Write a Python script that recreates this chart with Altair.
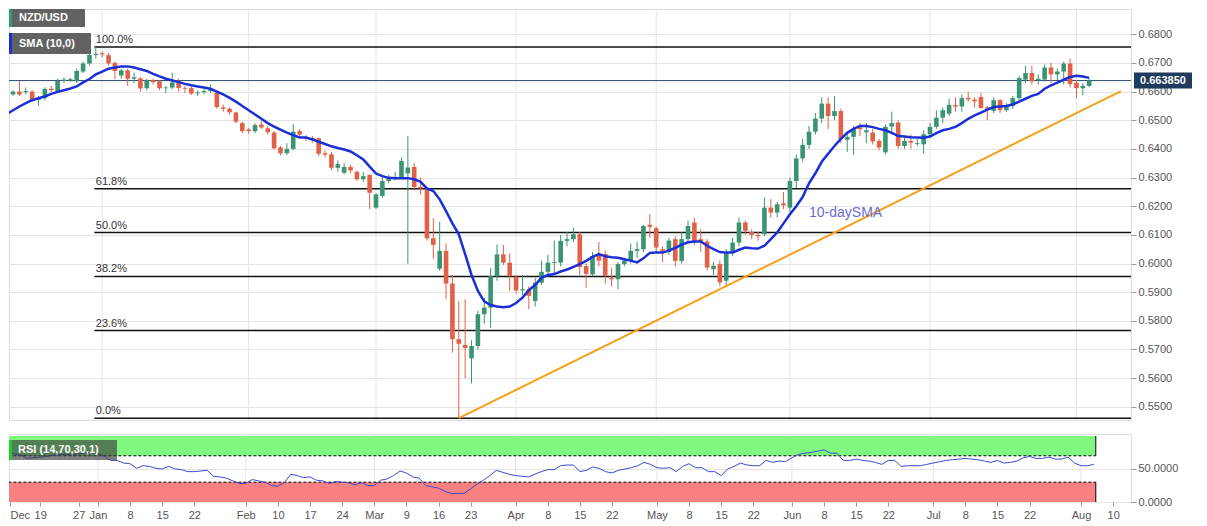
import altair as alt
import pandas as pd

# ---------------- data (trading-day index 0 = 1 Jan 2020) ----------------
day_idx = list(range(-15, 156))

opens = [
    .6550, .6590, .6600, .6598, .6600, .6572, .6578, .6610, .6600, .6637,
    .6640, .6636, .6670, .6698, .6728, .6734, .6727, .6700, .6656, .6674,
    .6645, .6646, .6612, .6640, .6636, .6612, .6614, .6638, .6613, .6612,
    .6594, .6598, .6602, .6596, .6545, .6540, .6527, .6490, .6468, .6462,
    .6485, .6472, .6457, .6405, .6385, .6400, .6462, .6442, .6438, .6437,
    .6385, .6381, .6334, .6317, .6337, .6320, .6294, .6309, .6195, .6236,
    .6288, .6297, .6300, .6315, .6337, .6268, .6259, .6088, .5982, .6044,
    .5930, .5736, .5716, .5669, .5712, .5823, .5846, .5956, .6032, .6003,
    .5954, .5906, .5910, .5869, .5933, .5971, .6002, .6003, .6079, .6085,
    .6102, .5991, .5962, .6030, .6033, .5950, .5945, .5998, .6009, .6044,
    .6050, .6135, .6123, .6050, .6040, .6085, .6009, .6085, .6143, .6085,
    .6077, .5980, .5998, .5940, .6038, .6073, .6143, .6110, .6100, .6102,
    .6195, .6178, .6210, .6195, .6288, .6367, .6414, .6460, .6506, .6558,
    .6515, .6532, .6432, .6442, .6475, .6458, .6457, .6428, .6388, .6478,
    .6492, .6410, .6428, .6417, .6416, .6451, .6477, .6509, .6523, .6553,
    .6548, .6578, .6572, .6581, .6545, .6533, .6570, .6535, .6550, .6577,
    .6642, .6665, .6640, .6642, .6684, .6660, .6670, .6698, .6631, .6612, .6620,
]
highs = [
    .6595, .6605, .6637, .6615, .6605, .6585, .6615, .6620, .6645, .6650,
    .6648, .6680, .6705, .6740, .6756, .6740, .6735, .6705, .6680, .6680,
    .6666, .6650, .6645, .6645, .6640, .6620, .6666, .6645, .6620, .6618,
    .6605, .6610, .6625, .6605, .6555, .6545, .6530, .6495, .6472, .6490,
    .6500, .6480, .6462, .6410, .6420, .6486, .6470, .6448, .6445, .6440,
    .6395, .6390, .6360, .6350, .6345, .6325, .6320, .6312, .6245, .6300,
    .6310, .6320, .6370, .6445, .6350, .6300, .6265, .6158, .6146, .6070,
    .5960, .5869, .5875, .5732, .5835, .5880, .5985, .6067, .6065, .6035,
    .5960, .5960, .5920, .5950, .6010, .6030, .6080, .6100, .6110, .6125,
    .6110, .6000, .6040, .6075, .6045, .5985, .6005, .6020, .6070, .6075,
    .6135, .6172, .6130, .6060, .6090, .6095, .6110, .6150, .6160, .6120,
    .6085, .6005, .6010, .6050, .6090, .6160, .6150, .6120, .6110, .6230,
    .6225, .6215, .6250, .6300, .6380, .6435, .6480, .6525, .6580, .6580,
    .6585, .6540, .6460, .6480, .6490, .6490, .6470, .6435, .6485, .6530,
    .6500, .6440, .6450, .6435, .6465, .6490, .6535, .6545, .6575, .6580,
    .6590, .6600, .6580, .6595, .6550, .6580, .6575, .6560, .6585, .6655,
    .6690, .6690, .6660, .6695, .6700, .6680, .6705, .6715, .6640, .6630, .6645,
]
lows = [
    .6545, .6585, .6585, .6590, .6565, .6550, .6570, .6598, .6595, .6630,
    .6635, .6630, .6665, .6690, .6715, .6720, .6690, .6644, .6645, .6620,
    .6630, .6600, .6605, .6625, .6605, .6595, .6608, .6600, .6595, .6588,
    .6585, .6590, .6595, .6540, .6530, .6520, .6490, .6455, .6453, .6455,
    .6470, .6450, .6398, .6378, .6378, .6395, .6440, .6428, .6420, .6375,
    .6370, .6325, .6320, .6312, .6315, .6288, .6285, .6190, .6190, .6230,
    .6280, .6290, .6295, .6000, .6255, .6240, .6080, .6016, .5975, .5875,
    .5689, .5460, .5600, .5581, .5700, .5790, .5775, .5940, .5995, .5905,
    .5895, .5890, .5840, .5850, .5925, .5955, .5965, .5990, .6060, .6075,
    .5960, .5915, .5955, .5990, .5930, .5920, .5910, .5990, .6000, .6020,
    .6040, .6090, .6040, .6005, .6030, .5990, .6000, .6075, .6065, .6040,
    .5975, .5960, .5920, .5925, .6025, .6060, .6100, .6085, .6080, .6095,
    .6160, .6160, .6190, .6180, .6263, .6355, .6400, .6450, .6490, .6469,
    .6500, .6420, .6390, .6379, .6445, .6420, .6415, .6395, .6380, .6460,
    .6400, .6400, .6400, .6410, .6384, .6440, .6470, .6490, .6515, .6530,
    .6530, .6565, .6545, .6540, .6500, .6525, .6525, .6530, .6540, .6570,
    .6630, .6625, .6625, .6635, .6630, .6640, .6625, .6615, .6577, .6588, .6615,
]
closes = [
    .6585, .6600, .6590, .6602, .6570, .6578, .6609, .6605, .6637, .6642,
    .6643, .6672, .6698, .6728, .6732, .6730, .6698, .6672, .6674, .6645,
    .6650, .6611, .6640, .6633, .6612, .6614, .6632, .6613, .6610, .6593,
    .6597, .6602, .6606, .6546, .6540, .6528, .6495, .6462, .6462, .6483,
    .6475, .6458, .6402, .6385, .6400, .6460, .6450, .6436, .6432, .6383,
    .6380, .6334, .6347, .6337, .6325, .6294, .6305, .6247, .6241, .6288,
    .6298, .6300, .6358, .6335, .6267, .6262, .6088, .6065, .6044, .5930,
    .5736, .5720, .5705, .5712, .5823, .5846, .5956, .6032, .6003, .5956,
    .5906, .5910, .5887, .5933, .5971, .6003, .6005, .6079, .6085, .6102,
    .5988, .5964, .6026, .6010, .5957, .5945, .5998, .6010, .6044, .6050,
    .6131, .6128, .6056, .6044, .6080, .6009, .6085, .6131, .6079, .6078,
    .5986, .5992, .5934, .6038, .6073, .6143, .6114, .6100, .6095, .6195,
    .6178, .6207, .6203, .6288, .6367, .6414, .6460, .6506, .6558, .6515,
    .6532, .6434, .6442, .6469, .6469, .6465, .6426, .6405, .6477, .6490,
    .6410, .6428, .6422, .6420, .6451, .6477, .6509, .6535, .6554, .6548,
    .6577, .6573, .6566, .6543, .6540, .6570, .6535, .6550, .6577, .6647,
    .6665, .6636, .6645, .6684, .6660, .6670, .6698, .6626, .6612, .6620, .66385,
]
sma10 = [
    .6521, .6535, .6548, .6560, .6570, .6577, .6583, .6592, .6599, .6605,
    .6611, .6618, .6632, .6644, .6660, .6670, .6680, .6684, .6688, .6688,
    .6684, .6678, .6672, .6662, .6653, .6645, .6639, .6633, .6627, .6622,
    .6618, .6614, .6610, .6600, .6590, .6578, .6565, .6550, .6535, .6520,
    .6505, .6490, .6478, .6467, .6457, .6448, .6440, .6440, .6433, .6425,
    .6417, .6409, .6403, .6398, .6391, .6378, .6363, .6338, .6314, .6305,
    .6299, .6298, .6298, .6298, .6294, .6285, .6262, .6253, .6224, .6183,
    .6140, .6102, .6033, .5960, .5904, .5868, .5855, .5850, .5847, .5850,
    .5862, .5881, .5907, .5925, .5951, .5960, .5963, .5972, .5979, .5988,
    .5998, .6009, .6023, .6033, .6025, .6022, .6020, .6015, .6010, .6004,
    .6018, .6037, .6038, .6038, .6045, .6055, .6066, .6074, .6077, .6077,
    .6062, .6050, .6040, .6038, .6038, .6048, .6056, .6053, .6052, .6062,
    .6085, .6108, .6140, .6172, .6200, .6232, .6280, .6315, .6355, .6383,
    .6410, .6435, .6456, .6470, .6480, .6480, .6476, .6470, .6465, .6456,
    .6445, .6443, .6441, .6440, .6439, .6443, .6455, .6465, .6470, .6477,
    .6490, .6505, .6517, .6527, .6537, .6546, .6548, .6550, .6555, .6565,
    .6575, .6585, .6592, .6610, .6622, .6631, .6642, .6651, .6655, .6653, .6648,
]
rsi14 = [
    74, 74, 73, 71, 66, 67, 68, 69, 71, 72,
    72, 72, 73, 74, 75, 73, 69, 63, 63, 59,
    58, 51, 55, 54, 51, 50, 54, 50, 49, 46,
    46, 47, 48, 39, 38, 36, 32, 28, 28, 34,
    32, 30, 25, 24, 29, 42, 40, 37, 38, 33,
    32, 28, 31, 30, 29, 26, 29, 25, 25, 33,
    35, 40, 47, 44, 38, 36, 25, 23, 21, 16,
    13, 13, 13, 20, 27, 33, 40, 48, 45, 42,
    40, 39, 38, 42, 46, 49, 49, 55, 56, 56,
    46, 48, 53, 51, 46, 44, 48, 50, 52, 55,
    60, 57, 52, 51, 52, 46, 54, 58, 52, 52,
    46, 46, 40, 50, 54, 59, 56, 55, 55, 63,
    60, 62, 61, 67, 72, 74, 75, 77, 79, 74,
    74, 63, 63, 65, 63, 62, 60, 57, 63, 63,
    54, 55, 55, 55, 57, 59, 61, 63, 64, 65,
    66, 65, 64, 62, 60, 63, 59, 60, 62, 67,
    69, 66, 66, 68, 65, 65, 68, 59, 55, 55, 57,
]

tick_idx = [-13.7, -9, -3, 0, 5, 10, 15, 23, 28, 33, 38, 43, 48, 53, 58, 65, 70, 75,
            80, 87, 92, 97, 102, 108, 113, 118, 123, 130, 135, 140, 145, 153, 158]
tick_lbl = ["Dec", "19", "27", "Jan", "8", "15", "22", "Feb", "10", "17", "24", "Mar",
            "9", "16", "23", "Apr", "8", "15", "22", "May", "8", "15", "22", "Jun", "8",
            "15", "22", "Jul", "8", "15", "22", "Aug", "10"]
month_idx = [0, 23, 43, 65, 87, 108, 130, 153]
price_ticks = [0.55, 0.56, 0.57, 0.58, 0.59, 0.60, 0.61, 0.62, 0.63, 0.64, 0.65, 0.66, 0.67, 0.68]

fib_pct = ["100.0%", "61.8%", "50.0%", "38.2%", "23.6%", "0.0%"]
fib_val = [0.6756, 0.6261, 0.6108, 0.5955, 0.5766, 0.5460]
fib_from = -1          # Dec 31 high candle

trend_idx = [56, 160]
trend_val = [0.5460, 0.6602]

last_close = 0.66385
last_label = "0.663850"

# ---------------- styling ----------------
FONT = "Liberation Sans"
GREEN = "#3a9472"
RED = "#e06048"
W = 1122
H_MAIN = 411
H_RSI = 68
X_DOM = [-13.85, 160.78]
Y_DOM = [0.54538, 0.68883]
RSI_DOM = [0, 103]

df = pd.DataFrame({"i": day_idx, "o": opens, "h": highs, "l": lows, "c": closes,
                   "sma": sma10, "rsi": rsi14})
one = pd.DataFrame({"a": [0]})

xs = alt.Scale(domain=X_DOM, nice=False, zero=False)
ys = alt.Scale(domain=Y_DOM, nice=False, zero=False)
rs = alt.Scale(domain=RSI_DOM, nice=False, zero=False)

y_axis = alt.Axis(orient="right", values=price_ticks, format=".4f", title=None,
                  grid=True, gridColor="#e4e4e4", tickColor="#999999", tickSize=5,
                  domain=False, labelColor="#555555", labelFontSize=11, labelFont=FONT,
                  labelPadding=2)


def X(f):
    return alt.X(f, scale=xs, axis=None)


def Y(f):
    return alt.Y(f, scale=ys, axis=y_axis)


cond = alt.condition("datum.c >= datum.o", alt.value(GREEN), alt.value(RED))

month_grid = alt.Chart(pd.DataFrame({"m": month_idx})).mark_rule(
    color="#e4e4e4", strokeWidth=1).encode(x=X("m:Q"))

fib_df = pd.DataFrame({"v": fib_val, "lbl": fib_pct, "s": [fib_from] * len(fib_val)})
fib_rules = alt.Chart(fib_df).mark_rule(color="#111111", strokeWidth=1.5, xOffset=-1.5).encode(
    x=X("s:Q"), x2=alt.value(W), y=Y("v:Q"))
fib_text = alt.Chart(fib_df).mark_text(align="left", baseline="bottom", dx=0, dy=-2,
                                       fontSize=11, font=FONT, color="#333333").encode(
    x=X("s:Q"), y=Y("v:Q"), text="lbl:N")

price_rule = alt.Chart(pd.DataFrame({"p": [last_close]})).mark_rule(
    color="#2d4b6e", strokeWidth=1).encode(y=Y("p:Q"))

trend = alt.Chart(pd.DataFrame({"ti": trend_idx, "tv": trend_val})).mark_line(
    color="#f5a01a", strokeWidth=2, clip=True).encode(x=X("ti:Q"), y=Y("tv:Q"))

wicks = alt.Chart(df).mark_rule(strokeWidth=1, clip=True).encode(
    x=X("i:Q"), y=Y("l:Q"), y2="h:Q", color=cond)
bodies = alt.Chart(df).mark_bar(size=4.6, clip=True).encode(
    x=X("i:Q"), y=Y("o:Q"), y2="c:Q", color=cond)
sma_line = alt.Chart(df).mark_line(color="#1b2fd6", strokeWidth=2.5, clip=True).encode(
    x=X("i:Q"), y=Y("sma:Q"))
sma_text = alt.Chart(pd.DataFrame({"x": [111], "y": [0.6176], "t": ["10-daySMA"]})).mark_text(
    align="left", baseline="middle", fontSize=14, font=FONT, color="#6a6ad8").encode(
    x=X("x:Q"), y=Y("y:Q"), text="t:N")


def box(x0, x1, y0, y1, color, opacity=1.0):
    return alt.Chart(one).mark_rect(color=color, opacity=opacity).encode(
        x=alt.value(x0), x2=alt.value(x1), y=alt.value(y0), y2=alt.value(y1))


def label(x, y, txt, size=11):
    return alt.Chart(one).mark_text(text=txt, align="left", baseline="middle", fontSize=size,
                                    fontWeight="bold", font=FONT, color="white").encode(
        x=alt.value(x), y=alt.value(y))


legend_layers = [
    box(0, 76, 0, 18, "#5a5a5a", 0.95), box(0, 3, 0, 18, "#2f9a78"), label(10, 9, "NZD/USD"),
    box(0, 82, 24, 45, "#5a5a5a", 0.95), box(0, 3, 24, 45, "#1b2fd6"), label(10, 35, "SMA (10,0)"),
]

tag_df = pd.DataFrame({"p": [last_close], "t": [last_label]})
tag_rect = alt.Chart(tag_df).mark_rect(color="#1e3a5c", yOffset=-8, y2Offset=8).encode(
    x=alt.value(W + 3), x2=alt.value(W + 61), y=Y("p:Q"), y2="p:Q")
tag_text = alt.Chart(tag_df).mark_text(color="white", fontWeight="bold", fontSize=11, font=FONT,
                                       align="center", baseline="middle").encode(
    x=alt.value(W + 32), y=Y("p:Q"), text="t:N")

main = alt.layer(month_grid, fib_rules, fib_text, price_rule, trend, wicks, bodies, sma_line,
                 sma_text, *legend_layers, tag_rect, tag_text).properties(width=W, height=H_MAIN)

# ---------------- RSI panel ----------------
label_expr = ("[" + ",".join("'%s'" % s for s in tick_lbl) + "][indexof([" +
              ",".join(str(v) for v in tick_idx) + "], datum.value)]")
rx_axis = alt.Axis(orient="bottom", values=tick_idx, labelExpr=label_expr, title=None, grid=False,
                   domain=False, tickColor="#999999", tickSize=4, labelColor="#555555",
                   labelFontSize=11, labelFont=FONT, labelPadding=3, labelFlush=5,
                   labelOverlap=False)
ry_axis = alt.Axis(orient="right", values=[0, 50], format=".4f", title=None, grid=True,
                   gridColor="#e4e4e4", tickColor="#999999", tickSize=5, domain=False,
                   labelColor="#555555", labelFontSize=11, labelFont=FONT, labelPadding=2)


def RX(f):
    return alt.X(f, scale=xs, axis=rx_axis)


def RY(f):
    return alt.Y(f, scale=rs, axis=ry_axis)


band_start = day_idx[0] - 0.5
band_end = day_idx[-1] + 0.3
band_df = pd.DataFrame({"s": [band_start, band_start], "e": [band_end, band_end],
                        "lo": [70, 0], "hi": [100, 30], "col": ["#80f880", "#f88080"]})
rsi_month = alt.Chart(pd.DataFrame({"m": month_idx})).mark_rule(
    color="#e4e4e4", strokeWidth=1).encode(x=RX("m:Q"))
bands = alt.Chart(band_df).mark_rect(clip=True).encode(
    x=RX("s:Q"), x2="e:Q", y=RY("lo:Q"), y2="hi:Q", color=alt.Color("col:N", scale=None))
lvl_df = pd.DataFrame({"lv": [70, 30], "s": [band_start] * 2, "e": [band_end] * 2})
levels = alt.Chart(lvl_df).mark_rule(color="black", strokeWidth=1, strokeDash=[3, 2], clip=True).encode(
    x=RX("s:Q"), x2="e:Q", y=RY("lv:Q"))
edges = alt.Chart(band_df).mark_rule(color="black", strokeWidth=1).encode(
    x=RX("e:Q"), y=RY("lo:Q"), y2="hi:Q")
rsi_line = alt.Chart(df).mark_line(color="#3a4bd0", strokeWidth=1, clip=True).encode(
    x=RX("i:Q"), y=RY("rsi:Q"))
rsi_box = [box(0, 108, 6, 26, "#3c3c3c", 0.65), box(0, 3, 6, 26, "#1fcc1f"),
           label(9, 16, "RSI (14,70,30,1)")]

rsi = alt.layer(rsi_month, bands, levels, edges, rsi_line, *rsi_box).properties(
    width=W, height=H_RSI)

chart = alt.vconcat(main, rsi, spacing=12).properties(
    padding={"left": 0, "top": 0, "right": 6, "bottom": 4}
).configure_view(fill="#f7f7f7", stroke="#cfcfcf").configure(background="white")

chart.save("out.html", embed_options={"renderer": "svg", "actions": False})
